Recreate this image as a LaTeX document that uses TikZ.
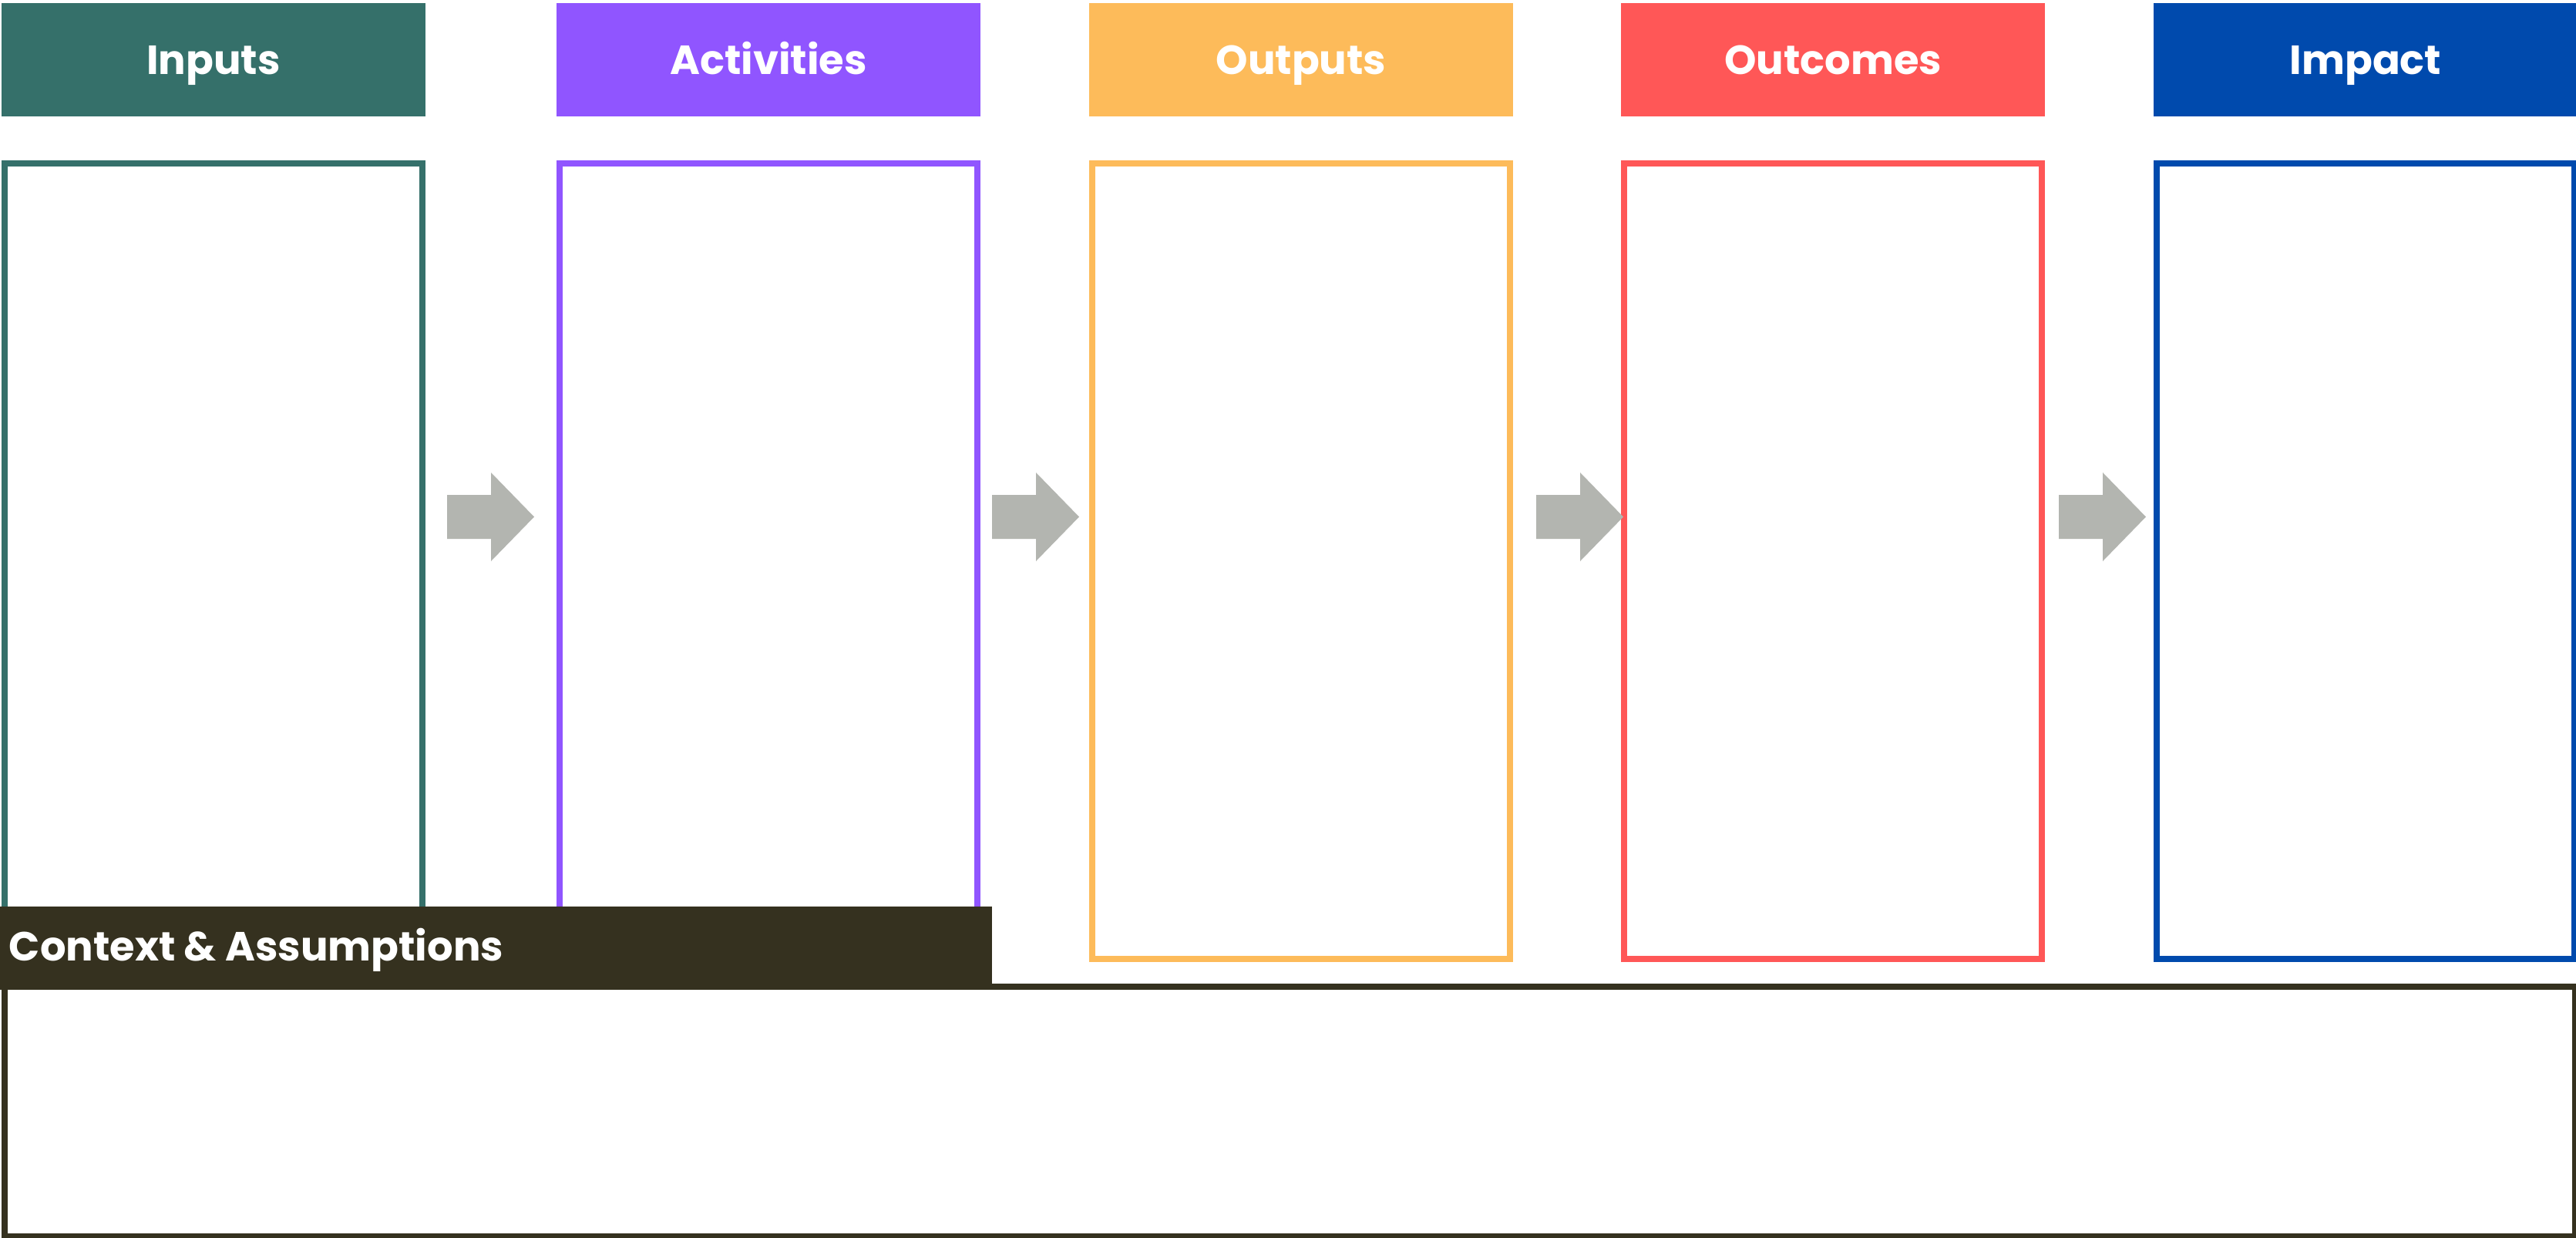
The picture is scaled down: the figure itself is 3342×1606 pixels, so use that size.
\documentclass[tikz,border=0pt]{standalone}
\usepackage{fontspec}
\setmainfont{Poppins}
\definecolor{cIn}{HTML}{35706A}
\definecolor{cAct}{HTML}{9055FF}
\definecolor{cOut}{HTML}{FDBB5A}
\definecolor{cOc}{HTML}{FF5757}
\definecolor{cImp}{HTML}{004AAD}
\definecolor{cCtx}{HTML}{35311F}
\definecolor{cArr}{HTML}{B3B5B0}
\begin{document}
\begin{tikzpicture}[x=0.25pt,y=-0.25pt,
  hdr/.style={rectangle,inner sep=0pt,outer sep=0pt,minimum width=137.5pt,minimum height=36.75pt},
  colbox/.style={rectangle,draw,line width=2pt,inner sep=0pt,outer sep=0pt,fill=white,minimum width=135.5pt,minimum height=258pt},
  lbl/.style={text=white,font=\fontsize{13.2}{15}\selectfont\bfseries,inner sep=0pt}]
\useasboundingbox (0,0) rectangle (3342,1606);
\clip (0,0) rectangle (3342,1606);
\fill[white] (0,0) rectangle (3342,1606);
% headers
\node[hdr,fill=cIn] (hIn) at (277,77.5) {};
\node[hdr,fill=cAct] (hAct) at (997,77.5) {};
\node[hdr,fill=cOut] (hOut) at (1688,77.5) {};
\node[hdr,fill=cOc] (hOc) at (2378,77.5) {};
\node[hdr,fill=cImp] (hImp) at (3069,77.5) {};
\node[lbl,anchor=base] (tIn) at (277,96) {Inputs};
\node[lbl,anchor=base] (tAct) at (997,96) {Activities};
\node[lbl,anchor=base] (tOut) at (1688,96) {Outputs};
\node[lbl,anchor=base] (tOc) at (2378,96) {Outcomes};
\node[lbl,anchor=base] (tImp) at (3069,96) {Impact};
% boxes
\node[colbox,draw=cIn] (bIn) at (277,728) {};
\node[colbox,draw=cAct] (bAct) at (997,728) {};
\node[colbox,draw=cOut] (bOut) at (1688,728) {};
\node[colbox,draw=cOc] (bOc) at (2378,728) {};
\node[colbox,draw=cImp] (bImp) at (3069,728) {};
% block arrows
\foreach \xo in {580,1287,1993,2671}{
  \fill[cArr] (\xo,642) -- ++(57,0) -- ++(0,-29) -- ++(56,57.5) -- ++(-56,57.5) -- ++(0,-29) -- ++(-57,0) -- cycle;
}
% context
\node[rectangle,draw=cCtx,line width=2pt,inner sep=0pt,outer sep=0pt,minimum width=833.75pt,minimum height=81pt,anchor=north west] (ctxbox) at (6,1280) {};
\fill[cCtx] (0,1176) rectangle (1287,1284);
\node[lbl,anchor=base west] (ctxlbl) at (11,1246) {Context \& Assumptions};
\end{tikzpicture}
\end{document}
